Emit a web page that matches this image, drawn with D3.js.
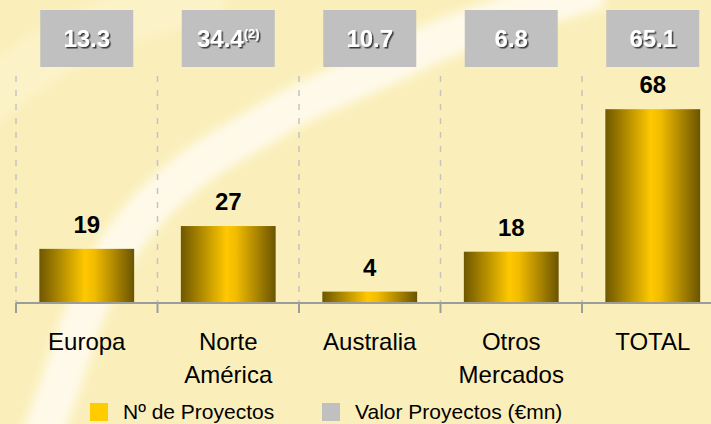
<!DOCTYPE html>
<html>
<head>
<meta charset="utf-8">
<script src="https://cdn.jsdelivr.net/npm/d3@7"></script>
<style>
	html, body { margin: 0; padding: 0; background: #faefbb; }
	svg { display: block; font-family: "Liberation Sans", Arial, sans-serif; }
</style>
</head>
<body>
<div id="chart"></div>
<script>
// data
var categories = ["Europa", "Norte América", "Australia", "Otros Mercados", "TOTAL"];
var proyectos = [19, 27, 4, 18, 68];
var valor = ["13.3", "34.4", "10.7", "6.8", "65.1"];
var valorNotes = ["", "(2)", "", "", ""];
var legendLabels = ["Nº de Proyectos", "Valor Proyectos (€mn)"];

var width = 711, height = 424;
var baseY = 303;

var svg = d3.select("#chart").append("svg")
	.attr("width", width)
	.attr("height", height);

var defs = svg.append("defs");

// bar gradient, dark edges and bright middle
var grad = defs.append("linearGradient")
	.attr("id", "barGrad")
	.attr("x1", "0").attr("x2", "1").attr("y1", "0").attr("y2", "0");
grad.append("stop").attr("offset", "0%").attr("stop-color", "#6e5700");
grad.append("stop").attr("offset", "48%").attr("stop-color", "#ffc800");
grad.append("stop").attr("offset", "58%").attr("stop-color", "#f2bc00");
grad.append("stop").attr("offset", "100%").attr("stop-color", "#6a5400");

defs.append("filter").attr("id", "blur")
	.attr("x", "-20%").attr("y", "-20%").attr("width", "140%").attr("height", "140%")
	.append("feGaussianBlur").attr("stdDeviation", 5);

defs.append("filter").attr("id", "shadow")
	.append("feDropShadow")
	.attr("dx", 1.5).attr("dy", 1.5)
	.attr("stdDeviation", 0.4)
	.attr("flood-color", "#3a3a3a");

// background
svg.append("rect")
	.attr("width", width)
	.attr("height", height)
	.attr("fill", "#faefbb");

var swoosh = d3.line().curve(d3.curveCatmullRom);

svg.append("path")
	.attr("d", swoosh([[-40, 120], [40, 60], [120, 20], [220, -10]]))
	.attr("fill", "none")
	.attr("stroke", "#fff8dc")
	.attr("stroke-width", 50)
	.attr("opacity", 0.4)
	.attr("filter", "url(#blur)");

svg.append("path")
	.attr("d", swoosh([[40, 440], [62, 380], [90, 300], [120, 245], [157, 200],
		[205, 160], [255, 130], [300, 104], [385, 66], [445, 38], [520, 12], [600, -12]]))
	.attr("fill", "none")
	.attr("stroke", "#fffbee")
	.attr("stroke-width", 40)
	.attr("opacity", 0.9)
	.attr("filter", "url(#blur)");

// scales
var x = d3.scaleBand()
	.domain(categories)
	.range([16, 723.5])
	.paddingInner(0.33)
	.paddingOuter(0.165);

var y = d3.scaleLinear()
	.domain([0, 80])
	.range([baseY, 75]);

var gap = (x.step() - x.bandwidth()) / 2;

// dashed separators + ticks
var g = svg.append("g");
categories.forEach(function (c) {
	var bx = x(c) - gap;
	g.append("line")
		.attr("x1", bx).attr("x2", bx)
		.attr("y1", y(80) + 1).attr("y2", baseY)
		.attr("stroke", "#c4c4c4")
		.attr("stroke-width", 1.5)
		.attr("stroke-dasharray", "6,8");
	g.append("line")
		.attr("x1", bx).attr("x2", bx)
		.attr("y1", baseY).attr("y2", baseY + 10)
		.attr("stroke", "#9c9c9c")
		.attr("stroke-width", 2);
});

// bars
svg.selectAll("rect.bar")
	.data(proyectos)
	.enter().append("rect")
	.attr("class", "bar")
	.attr("x", function (d, i) { return x(categories[i]); })
	.attr("width", x.bandwidth())
	.attr("y", function (d) { return y(d); })
	.attr("height", function (d) { return baseY - y(d); })
	.attr("fill", "url(#barGrad)");

// axis line
svg.append("line")
	.attr("x1", 16).attr("x2", width)
	.attr("y1", baseY).attr("y2", baseY)
	.attr("stroke", "#9c9c9c")
	.attr("stroke-width", 2);

// bar labels
svg.selectAll("text.val")
	.data(proyectos)
	.enter().append("text")
	.attr("class", "val")
	.attr("x", function (d, i) { return x(categories[i]) + x.bandwidth() / 2; })
	.attr("y", function (d) { return y(d) - 16; })
	.attr("text-anchor", "middle")
	.attr("font-size", 24)
	.attr("font-weight", "bold")
	.attr("fill", "#000")
	.text(function (d) { return d; });

// category labels (two lines where needed)
categories.forEach(function (c) {
	var t = svg.append("text")
		.attr("text-anchor", "middle")
		.attr("font-size", 24)
		.attr("fill", "#000");
	c.split(" ").forEach(function (w, k) {
		t.append("tspan")
			.attr("x", x(c) + x.bandwidth() / 2)
			.attr("y", 350 + k * 33)
			.text(w);
	});
});

// value boxes
var boxW = 93, boxH = 57;
valor.forEach(function (v, i) {
	var cx = x(categories[i]) + x.bandwidth() / 2;
	svg.append("rect")
		.attr("x", cx - boxW / 2)
		.attr("y", 10)
		.attr("width", boxW)
		.attr("height", boxH)
		.attr("fill", "#c0c0c0");
	var t = svg.append("text")
		.attr("x", cx)
		.attr("y", 47)
		.attr("text-anchor", "middle")
		.attr("font-size", 24)
		.attr("font-weight", "bold")
		.attr("fill", "#ffffff")
		.attr("filter", "url(#shadow)");
	t.append("tspan").text(v);
	if (valorNotes[i]) {
		t.append("tspan")
			.attr("font-size", 13)
			.attr("dy", -9)
			.text(valorNotes[i]);
	}
});

// legend
var legendColors = ["#ffcc00", "#c0c0c0"];
var legendX = [90, 322];
legendLabels.forEach(function (l, i) {
	svg.append("rect")
		.attr("x", legendX[i])
		.attr("y", 403)
		.attr("width", 18)
		.attr("height", 18)
		.attr("fill", legendColors[i]);
	svg.append("text")
		.attr("x", legendX[i] + 33)
		.attr("y", 419)
		.attr("font-size", 21)
		.attr("fill", "#000")
		.text(l);
});
</script>
</body>
</html>
